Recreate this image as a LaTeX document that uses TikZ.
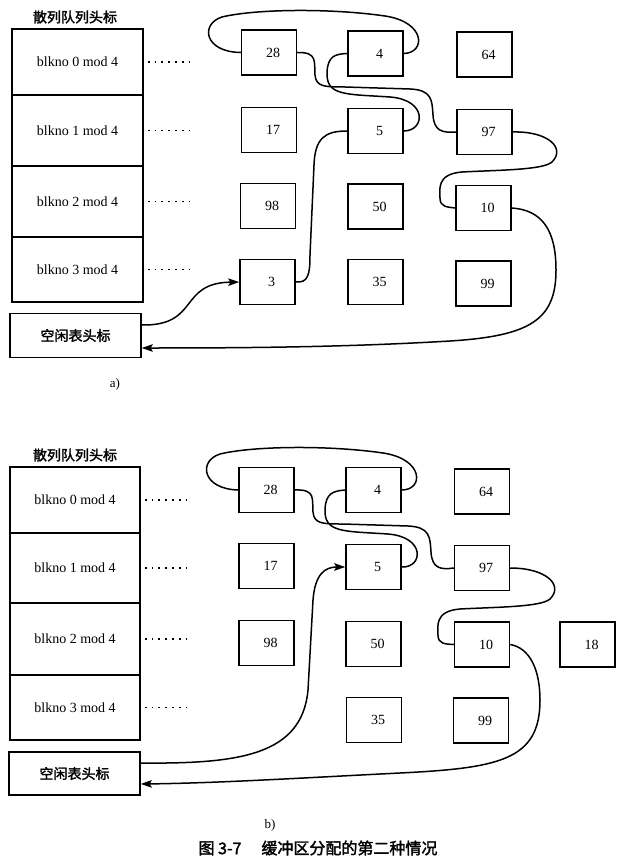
\documentclass[tikz,border=0pt]{standalone}
\usepackage{fontspec}
\setmainfont{Liberation Serif}
\newfontfamily\cjk{Noto Sans CJK SC}[AutoFakeBold=2]
\usetikzlibrary{arrows.meta,calc}
\newcommand\chainlinks[1]{%
 \draw[link] (#15.east) .. controls (425,131) and (428,100) .. (390,97) .. controls (345,94) and (326,96) .. (327,72) .. controls (328,56) and (335,54) .. (#14.west);
 \draw[link] (#14.east) .. controls (426,53) and (426,22) .. (385,16) .. controls (330,8) and (255,9) .. (222,17) .. controls (200,24) and (204,52) .. (#128.west);
 \draw[link] (#128.east) .. controls (318,52) and (314,62) .. (315,75) .. controls (316,87) and (325,87) .. (345,87) -- (410,89) .. controls (432,90) and (432,100) .. (433,115) .. controls (434,131) and (442,133) .. (#197.west);
 \draw[link] (#197.east) .. controls (548,131) and (566,148) .. (552,162) .. controls (543,170) and (500,170) .. (462,172) .. controls (436,174) and (440,190) .. (440,198) .. controls (440,207) and (447,207) .. (#110.west);
}
\begin{document}
\begin{tikzpicture}[x=1pt,y=-1pt,
  blk/.style={draw,line width=1.5pt,minimum width=55pt,minimum height=45pt,inner sep=0pt,font=\fontsize{14}{16}\selectfont,execute at begin node=\hspace*{8pt}},
  rowbox/.style={draw,line width=1.5pt,inner sep=0pt,minimum width=131pt,font=\fontsize{14}{16}\selectfont},
  freebox/.style={draw,line width=1.5pt,inner sep=0pt,minimum width=131pt,minimum height=44pt,font=\cjk\bfseries\fontsize{14}{16}\selectfont},
  link/.style={line width=1.5pt,line cap=round},
  arr/.style={line width=1.5pt,-{Stealth[length=11pt,width=7.5pt,inset=2pt]}},
  dotrow/.style={line width=1.8pt,dash pattern=on 1.8pt off 5pt},
  ttl/.style={font=\cjk\bfseries\fontsize{14}{16}\selectfont,inner sep=0pt}
]
\useasboundingbox (0,0) rectangle (637,861);
% ---------------- panel a ----------------
\node[ttl] (ta) at (75,17) {散列队列头标};
\node[rowbox,minimum height=66pt] (ar0) at (77.5,62) {blkno 0 mod 4};
\node[rowbox,minimum height=71pt] (ar1) at (77.5,130.5) {blkno 1 mod 4};
\node[rowbox,minimum height=71pt] (ar2) at (77.5,201.5) {blkno 2 mod 4};
\node[rowbox,minimum height=65pt] (ar3) at (77.5,269.5) {blkno 3 mod 4};
\foreach \r in {0,1,2,3}{\draw[dotrow] ([xshift=4pt]ar\r.east) -- ++(43,0);}
\node[freebox] (afa) at (75.5,335.5) {空闲表头标};
\coordinate (afo) at ($(afa.east)+(0,-10.5)$);
\coordinate (afi) at ($(afa.east)+(0,12.5)$);

\node[blk] (a28) at (269,52.5) {28};
\node[blk] (a4) at (375.5,53.5) {4};
\node[blk] (a64) at (484.5,54.5) {64};
\node[blk] (a17) at (269,130) {17};
\node[blk] (a5) at (375.5,131) {5};
\node[blk] (a97) at (484.5,132) {97};
\node[blk] (a98) at (268,206) {98};
\node[blk] (a50) at (375.5,206.5) {50};
\node[blk] (a10) at (483.5,208) {10};
\node[blk] (a3) at (267.5,282) {3};
\node[blk] (a35) at (375.5,282) {35};
\node[blk] (a99) at (483.5,283.5) {99};

\chainlinks{a}
\draw[arr] (afo) .. controls (200,326) and (178,283) .. (a3.west);
\draw[link] (a3.east) .. controls (308,283) and (310,275) .. (310,255) -- (314,165) .. controls (315,138) and (325,131) .. (a5.west);
\draw[arr] (a10.east) .. controls (542,210) and (556,230) .. (556,270) .. controls (556,320) and (530,336) .. (450,341) .. controls (350,347) and (250,348) .. (afi);
\node[font=\fontsize{13}{15}\selectfont] (capa) at (115,384) {a)};

% ---------------- panel b ----------------
\node[ttl] (tb) at (75,455) {散列队列头标};
\node[rowbox,minimum width=130pt,minimum height=66pt] (br0) at (75,500) {blkno 0 mod 4};
\node[rowbox,minimum width=130pt,minimum height=70pt] (br1) at (75,568) {blkno 1 mod 4};
\node[rowbox,minimum width=130pt,minimum height=72pt] (br2) at (75,639) {blkno 2 mod 4};
\node[rowbox,minimum width=130pt,minimum height=65pt] (br3) at (75,707.5) {blkno 3 mod 4};
\foreach \r in {0,1,2,3}{\draw[dotrow] ([xshift=4pt]br\r.east) -- ++(43,0);}
\node[freebox,minimum height=43pt] (bfa) at (74.5,773.5) {空闲表头标};
\coordinate (bfo) at ($(bfa.east)+(0,-10.5)$);
\coordinate (bfi) at ($(bfa.east)+(0,10.5)$);

\node[blk] (b28) at (266.5,490) {28};
\node[blk] (b4) at (373.5,490) {4};
\node[blk] (b64) at (482,491.5) {64};
\node[blk] (b17) at (266.5,566) {17};
\node[blk] (b5) at (373.5,567) {5};
\node[blk] (b97) at (482,568) {97};
\node[blk] (b98) at (266.5,643) {98};
\node[blk] (b50) at (373.5,644) {50};
\node[blk] (b10) at (482,644.5) {10};
\node[blk] (b18) at (587.5,644.5) {18};
\node[blk] (b35) at (374,720) {35};
\node[blk] (b99) at (481,720.5) {99};

\begin{scope}[shift={(-2,437)}]
\chainlinks{b}
\end{scope}
\draw[arr] (bfo) .. controls (240,764) and (302,755) .. (308,690) -- (313,600) .. controls (315,574) and (325,567) .. (b5.west);
\draw[arr] (b10.east) .. controls (530,648) and (540,670) .. (540,700) .. controls (540,760) and (500,768) .. (400,773) .. controls (300,778) and (220,783) .. (bfi);
\node[font=\fontsize{13}{15}\selectfont] (capb) at (270,825) {b)};
\node[font=\cjk\bfseries\fontsize{16}{18}\selectfont] (cap) at (318,848) {图 3-7\hspace{20pt}缓冲区分配的第二种情况};
\end{tikzpicture}
\end{document}
